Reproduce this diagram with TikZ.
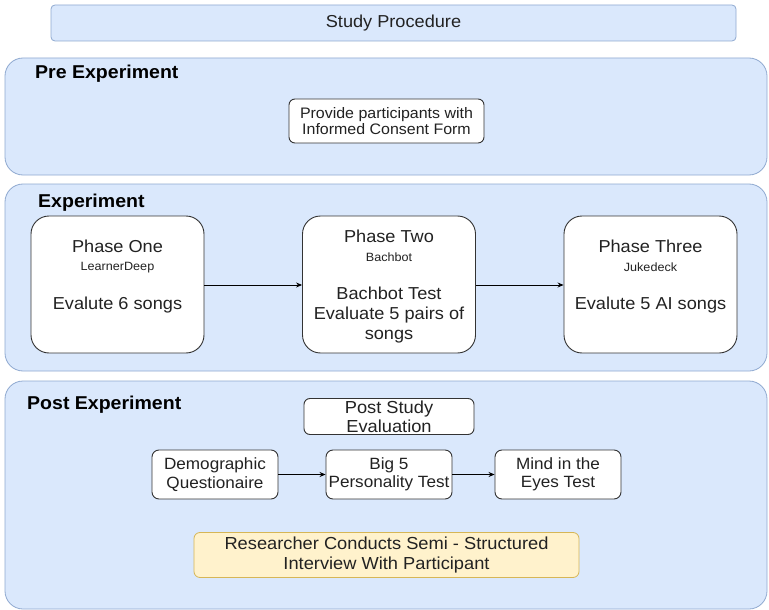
\documentclass[tikz,border=0pt]{standalone}
\usepackage{fontspec}
\setmainfont[FakeStretch=1.05]{Liberation Sans}
\usetikzlibrary{arrows.meta}
\definecolor{cfill}{HTML}{DAE8FC}
\definecolor{cdraw}{HTML}{8FA9D0}
\definecolor{yfill}{HTML}{FFF2CC}
\definecolor{ydraw}{HTML}{D6B656}
\definecolor{bdraw}{HTML}{333333}
\definecolor{txt}{HTML}{222222}
\newcommand{\setfs}[2]{\fontsize{#1}{#2}\selectfont}
\tikzset{
  container/.style={draw=cdraw, fill=cfill, line width=0.8pt, rounded corners=18pt, inner sep=0pt},
  titlebox/.style={draw=cdraw, fill=cfill, line width=0.8pt, rounded corners=4pt, inner sep=0pt},
  phasebox/.style={draw=bdraw, fill=white, line width=0.9pt, rounded corners=18pt, inner sep=0pt, minimum width=173pt, minimum height=137pt},
  smallbox/.style={draw=bdraw, fill=white, line width=0.9pt, rounded corners=7pt, inner sep=0pt, minimum width=126pt, minimum height=49pt, text=txt, align=center, font=\setfs{16.3}{18.5}},
  yellowbox/.style={draw=ydraw, fill=yfill, line width=0.8pt, rounded corners=6pt, inner sep=0pt, minimum width=385pt, minimum height=45pt, text=txt, align=center, font=\setfs{17.4}{19.5}},
  lab/.style={anchor=west, inner sep=0pt, font=\bfseries\setfs{18.6}{20}, text=black},
  big/.style={inner sep=0pt, font=\setfs{17.3}{20}, text=txt, align=center},
  small/.style={inner sep=0pt, font=\setfs{12}{14}, text=txt},
  arr/.style={-{Stealth[length=6pt,width=5pt]}, line width=0.8pt, black}
}
\begin{document}
\begin{tikzpicture}[x=1pt,y=-1pt]
\useasboundingbox (0,0) rectangle (769,610);
% title
\node[titlebox, minimum width=685pt, minimum height=36pt, font=\setfs{17.3}{20}, text=txt] (title) at (393.5,23) {Study Procedure};
% pre experiment
\node[container, minimum width=762pt, minimum height=117pt] (pre) at (386,116.5) {};
\node[lab] (prel) at (35,74) {Pre Experiment};
\node[draw=bdraw, fill=white, line width=0.9pt, rounded corners=6pt, inner sep=0pt, minimum width=195pt, minimum height=44pt, align=center, text=txt, font=\setfs{15.2}{16.5}] (consent) at (386.5,121) {Provide participants with\\Informed Consent Form};
% experiment
\node[container, minimum width=762pt, minimum height=187pt] (exp) at (386,277.5) {};
\node[lab] (expl) at (38,203) {Experiment};
\node[phasebox] (p1) at (117.5,284.5) {};
\node[phasebox] (p2) at (389,284.5) {};
\node[phasebox] (p3) at (650.5,284.5) {};
\node[big] (p1a) at (117.5,246.5) {Phase One};
\node[small] (p1b) at (117.5,267.5) {LearnerDeep};
\node[big] (p1c) at (117.5,305.5) {Evalute 6 songs};
\node[big] (p2a) at (389,236.5) {Phase Two};
\node[small] (p2b) at (389,257.5) {Bachbot};
\node[big] (p2c) at (389,315.5) {Bachbot Test\\Evaluate 5 pairs of\\songs};
\node[big] (p3a) at (650.5,246.5) {Phase Three};
\node[small] (p3b) at (650.5,267.5) {Jukedeck};
\node[big] (p3c) at (650.5,305.5) {Evalute 5 AI songs};
\draw[arr] (p1.east |- 0,285) -- (p2.west |- 0,285);
\draw[arr] (p2.east |- 0,285) -- (p3.west |- 0,285);
% post experiment
\node[container, minimum width=762pt, minimum height=228pt] (post) at (386,495) {};
\node[lab] (postl) at (27,405) {Post Experiment};
\node[smallbox, minimum width=170pt, minimum height=36pt, rounded corners=6pt, font=\setfs{17.4}{19}] (pse) at (389,416.5) {Post Study\\Evaluation};
\node[smallbox] (demo) at (215,474.5) {Demographic\\Questionaire};
\node[smallbox] (big5) at (389,474.5) {Big 5\\Personality Test};
\node[smallbox] (mind) at (558,474.5) {Mind in the\\Eyes Test};
\draw[arr] (demo) -- (big5);
\draw[arr] (big5) -- (mind);
\node[yellowbox] (interview) at (386.5,555) {Researcher Conducts Semi - Structured\\Interview With Participant};
\end{tikzpicture}
\end{document}
